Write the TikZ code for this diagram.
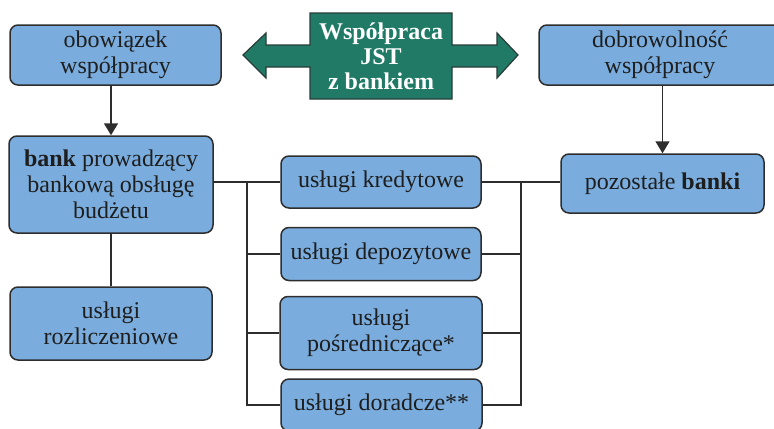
\documentclass[tikz,border=0pt]{standalone}
\usepackage{fontspec}
\setmainfont{Liberation Serif}
\usetikzlibrary{arrows.meta}
\definecolor{boxblue}{RGB}{122,173,222}
\definecolor{boxedge}{RGB}{45,45,45}
\definecolor{coopgreen}{RGB}{32,122,102}
\definecolor{txt}{RGB}{30,30,30}
\tikzset{
  bbox/.style={draw=boxedge, fill=boxblue, line width=0.75pt, rounded corners=4pt,
    align=center, inner sep=0pt, text=txt,
    font=\fontsize{12pt}{13pt}\selectfont},
  conn/.style={draw=boxedge, line width=0.8pt},
  arr/.style={conn, -{Triangle[width=7pt,length=6pt]}},
}
\begin{document}
\begin{tikzpicture}[x=0.5pt,y=-0.5pt]
\clip (0,0) rectangle (774,428);
\fill[white] (0,0) rectangle (774,428);
% green double arrow
\filldraw[fill=coopgreen, draw=boxedge!80!coopgreen, line width=0.6pt]
  (243,55) -- (266,33) -- (266,45) -- (310,45) -- (310,13) -- (452,13) -- (452,45)
  -- (497,45) -- (497,33) -- (518,55) -- (497,78) -- (497,67) -- (452,67)
  -- (452,99) -- (310,99) -- (310,67) -- (266,67) -- (266,78) -- cycle;
\node[align=center, text=white, font=\fontsize{12pt}{12.5pt}\selectfont\bfseries] (coop) at (381,56)
  {Współpraca\\JST\\z bankiem};
% boxes
\node[bbox, minimum width=105.5pt, minimum height=30pt] (obow) at (115.5,55) {obowiązek\\współpracy};
\node[bbox, minimum width=102pt, minimum height=48.5pt] (bank) at (111,184.5) {\textbf{bank} prowadzący\\bankową obsługę\\budżetu};
\node[bbox, minimum width=101pt, minimum height=36.5pt] (rozl) at (111,323.5) {usługi\\rozliczeniowe};
\node[bbox, minimum width=100pt, minimum height=26pt] (kred) at (381,182) {usługi kredytowe};
\node[bbox, minimum width=100pt, minimum height=26.5pt] (depo) at (381,254) {usługi depozytowe};
\node[bbox, minimum width=101pt, minimum height=36.5pt] (posr) at (381,333) {usługi\\pośredniczące*};
\node[bbox, minimum width=100.5pt, minimum height=26pt] (dora) at (381.5,405) {usługi doradcze**};
\node[bbox, minimum width=121pt, minimum height=30pt] (dobr) at (660,55) {dobrowolność\\współpracy};
\node[bbox, minimum width=101.5pt, minimum height=29.5pt] (pozo) at (662.5,183.5) {pozostałe \textbf{banki}};
% connectors
\coordinate (lb) at (247,182);
\coordinate (rb) at (521,182);
\draw[arr] (obow.south -| bank.north) -- (bank.north);
\draw[arr] (dobr.south -| pozo.north) -- (pozo.north);
\draw[conn] (bank.south -| rozl.north) -- (rozl.north);
\draw[conn] (bank.east |- kred.west) -- (kred.west);
\draw[conn] (lb |- kred.west) -- (lb |- dora.west) -- (dora.west);
\draw[conn] (lb |- depo.west) -- (depo.west);
\draw[conn] (lb |- posr.west) -- (posr.west);
\draw[conn] (kred.east) -- (pozo.west |- kred.east);
\draw[conn] (rb |- kred.east) -- (rb |- dora.east) -- (dora.east);
\draw[conn] (rb |- depo.east) -- (depo.east);
\draw[conn] (rb |- posr.east) -- (posr.east);
\end{tikzpicture}
\end{document}
